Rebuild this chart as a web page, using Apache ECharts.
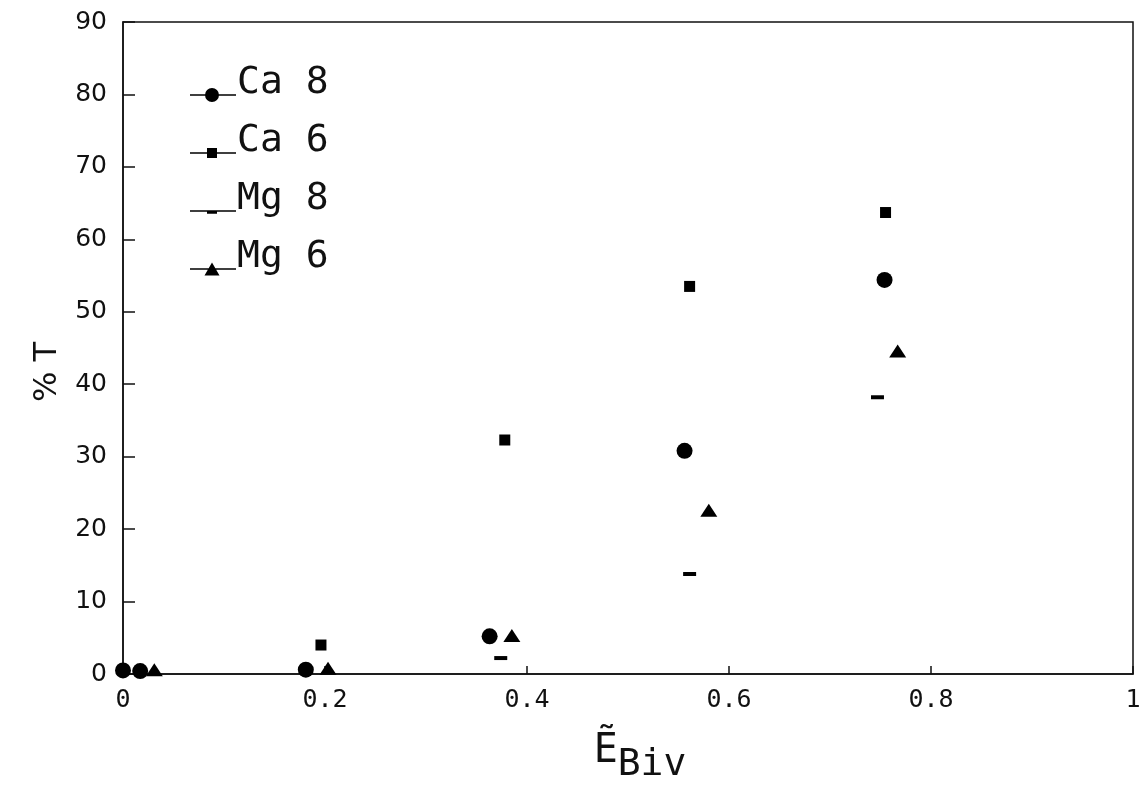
<!DOCTYPE html>
<html>
<head>
<meta charset="utf-8">
<script src="https://cdn.jsdelivr.net/npm/echarts@6/dist/echarts.min.js"></script>
<style>html,body{margin:0;padding:0;background:#fff;}#c{width:1147px;height:789px;}</style>
</head>
<body>
<div id="c"></div>
<script>
const seriesNames = ['Ca 8', 'Ca 6', 'Mg 8', 'Mg 6'];
const ca8 = [[0.0, 0.5], [0.017, 0.4], [0.181, 0.6], [0.363, 5.2], [0.556, 30.8], [0.754, 54.4]];
const ca6 = [[0.196, 4.0], [0.378, 32.3], [0.561, 53.5], [0.755, 63.7]];
const mg8 = [[0.374, 2.2], [0.561, 13.8], [0.747, 38.2]];
const mg6 = [[0.031, 0.6], [0.203, 0.8], [0.385, 5.3], [0.58, 22.6], [0.767, 44.6]];
const xTicks = [0, 0.2, 0.4, 0.6, 0.8, 1];
const yTicks = [0, 10, 20, 30, 40, 50, 60, 70, 80, 90];

const mono = 'DejaVu Sans Mono';
const box = 'M0,0 L0.05,0 L0.05,0.05 Z M45.95,39.95 L46,39.95 L46,40 Z ';
const icons = {
  circle: 'path://' + box + 'M0,31.2 L16,31.2 L16,32.8 L0,32.8 Z M15,32 A7,7 0 1 1 29,32 A7,7 0 1 1 15,32 Z M28,31.2 L46,31.2 L46,32.8 L28,32.8 Z',
  rect: 'path://' + box + 'M0,31.2 L17,31.2 L17,32.8 L0,32.8 Z M17,27 L27,27 L27,37 L17,37 Z M27,31.2 L46,31.2 L46,32.8 L27,32.8 Z',
  dash: 'path://' + box + 'M0,31.2 L46,31.2 L46,32.8 L0,32.8 Z M17,32.8 L27,32.8 L27,34.8 L17,34.8 Z',
  tri: 'path://' + box + 'M0,31.2 L19,31.2 L19,32.8 L0,32.8 Z M22,25.5 L29.5,38.5 L14.5,38.5 Z M25,31.2 L46,31.2 L46,32.8 L25,32.8 Z'
};

const chart = echarts.init(document.getElementById('c'));
chart.setOption({
  backgroundColor: '#fff',
  animation: false,
  grid: { left: 123, right: 14, top: 22, bottom: 114, show: true, borderColor: '#111', borderWidth: 1.5, backgroundColor: 'transparent' },
  legend: {
    orient: 'vertical', left: 185, top: 58, itemGap: 18, itemWidth: 46, itemHeight: 40,
    symbolKeepAspect: true,
    textStyle: { fontFamily: mono, fontSize: 38, color: '#111', padding: [0, 0, 0, -4] },
    data: [
      { name: 'Ca 8', icon: icons.circle, itemStyle: { color: '#000', opacity: 1 } },
      { name: 'Ca 6', icon: icons.rect, itemStyle: { color: '#000', opacity: 1 } },
      { name: 'Mg 8', icon: icons.dash, itemStyle: { color: '#000', opacity: 1 } },
      { name: 'Mg 6', icon: icons.tri, itemStyle: { color: '#000', opacity: 1 } }
    ]
  },
  graphic: [{
    type: 'text', x: 48, y: 372, rotation: Math.PI / 2,
    style: { text: '% T', fontFamily: 'DejaVu Sans', fontSize: 32, fill: '#111', align: 'center', verticalAlign: 'middle' }
  }],
  xAxis: {
    type: 'value', min: 0, max: 1, interval: 0.2,
    axisLine: { show: true, lineStyle: { color: '#111', width: 1.5 } },
    axisTick: { show: true, inside: true, length: 8, lineStyle: { color: '#111', width: 1.5 } },
    splitLine: { show: false },
    axisLabel: {
      color: '#111', fontFamily: mono, fontSize: 25, margin: 14,
      formatter: v => (v === 0 ? '0' : v === 1 ? '1' : v.toFixed(1))
    },
    name: '{e|Ẽ}{s|Biv}', nameLocation: 'middle', nameGap: 58,
    nameTextStyle: {
      rich: {
        e: { fontFamily: mono, fontSize: 40, color: '#111', verticalAlign: 'bottom', padding: [0, 0, 0, 24] },
        s: { fontFamily: mono, fontSize: 38, color: '#111', verticalAlign: 'bottom', padding: [0, 0, -12, 0] }
      }
    }
  },
  yAxis: {
    type: 'value', min: 0, max: 90, interval: 10,
    axisLine: { show: true, lineStyle: { color: '#111', width: 1.5 } },
    axisTick: { show: true, inside: true, length: 12, lineStyle: { color: '#111', width: 1.5 } },
    splitLine: { show: false },
    axisLabel: { color: '#111', fontFamily: 'DejaVu Sans', fontSize: 25, margin: 16 }
  },
  series: [
    { name: seriesNames[0], type: 'scatter', data: ca8, symbol: 'circle', symbolSize: 16, itemStyle: { color: '#000', opacity: 1 }, z: 4 },
    { name: seriesNames[1], type: 'scatter', data: ca6, symbol: 'rect', symbolSize: 11, itemStyle: { color: '#000', opacity: 1 }, z: 3 },
    { name: seriesNames[2], type: 'scatter', data: mg8, symbol: 'rect', symbolSize: [13, 4], itemStyle: { color: '#000', opacity: 1 }, z: 3 },
    { name: seriesNames[3], type: 'scatter', data: mg6, symbol: 'triangle', symbolSize: [17, 13], itemStyle: { color: '#000', opacity: 1 }, z: 3 }
  ]
});
</script>
</body>
</html>
